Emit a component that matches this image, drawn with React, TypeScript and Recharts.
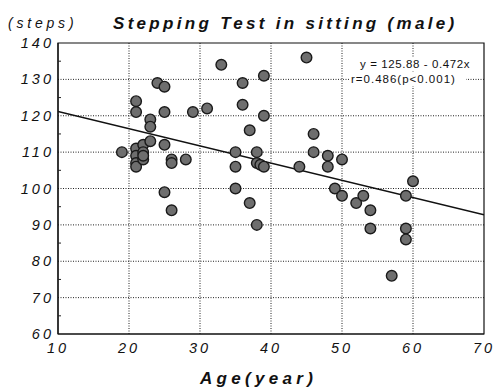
import { ScatterChart, Scatter, XAxis, YAxis, CartesianGrid, ReferenceArea } from 'recharts';

// ages (years) and stepping counts
const ages = [
  19, 21, 21, 21, 21, 21, 21, 22, 22, 22, 22, 23, 23, 23,
  24, 25, 25, 25, 25, 26, 26, 26, 28, 29, 31, 33,
  35, 35, 35, 36, 36, 37, 37, 38, 38, 38.5, 39, 38, 39, 39,
  44, 45, 46, 46, 48, 48, 49, 50, 50, 52, 53, 54, 54, 57, 59, 59, 59, 60,
];
const steps = [
  110, 124, 121, 111, 109, 107, 106, 112, 110, 108, 109, 113, 119, 117,
  129, 128, 121, 112, 99, 108, 107, 94, 108, 121, 122, 134,
  110, 106, 100, 129, 123, 116, 96, 110, 107, 106.5, 106, 90, 131, 120,
  106, 136, 115, 110, 109, 106, 100, 108, 98, 96, 98, 94, 89, 76, 98, 89, 86, 102,
];

// regression line y = 125.88 - 0.472x, end points at the plot edges
const fitAges = [10, 70];
const fitSteps = [121.2, 92.8];

const xTicks = [10, 20, 30, 40, 50, 60, 70];
const yTicks = [60, 65, 70, 75, 80, 85, 90, 95, 100, 105, 110, 115, 120, 125, 130, 135, 140];
const yGrid = [70, 80, 90, 100, 110, 120, 130];
const xGrid = [20, 30, 40, 50, 60];

const points = ages.map((a, i) => ({ x: a, y: steps[i] }));
const fitLine = fitAges.map((a, i) => ({ x: a, y: fitSteps[i] }));

const FONT = '"Liberation Sans", Arial, Helvetica, sans-serif';

const LeftTick = (props: any) => {
  const { x, y, payload } = props;
  const v = payload.value;
  const major = v % 10 === 0;
  return (
    <g>
      {!major && <line x1={x + 6} x2={x + 9} y1={y} y2={y} stroke="#222" strokeWidth={1} />}
      {major && (
        <text x={x + 2} y={y} dy={5} textAnchor="end" fontFamily={FONT} fontStyle="italic"
          fontSize={14.5} letterSpacing={3} fill="#111">
          {v}
        </text>
      )}
    </g>
  );
};

const RightTick = (props: any) => {
  const { x, y, payload } = props;
  if (payload.value % 10 === 0) return <g />;
  return <line x1={x - 3} x2={x} y1={y} y2={y} stroke="#222" strokeWidth={1} />;
};

const Dot = (props: any) => (
  <circle cx={props.cx} cy={props.cy} r={5.3} fill="#6e6e6e" stroke="#1a1a1a" strokeWidth={1.4} />
);

export default function App() {
  return (
    <div style={{ position: 'absolute', left: 0, top: 0, width: 495, height: 388, background: '#fff' }}>
      <ScatterChart width={495} height={388} margin={{ top: 43, right: 11, bottom: 24, left: 8 }}>
        <CartesianGrid
          horizontalValues={yGrid}
          verticalValues={xGrid}
          stroke="#222"
          strokeDasharray="1 1.5"
        />
        <XAxis
          type="number"
          dataKey="x"
          domain={[10, 70]}
          ticks={xTicks}
          height={30}
          tickSize={0}
          tickMargin={9}
          axisLine={{ stroke: '#111', strokeWidth: 1.2 }}
          tick={{ fontFamily: FONT, fontStyle: 'italic', fontSize: 14.5, letterSpacing: 3, fill: '#111' }}
          allowDataOverflow
        />
        <YAxis
          type="number"
          dataKey="y"
          domain={[60, 140]}
          ticks={yTicks}
          width={50}
          tickSize={0}
          tickMargin={6}
          interval={0}
          axisLine={{ stroke: '#111', strokeWidth: 1.2 }}
          tick={<LeftTick />}
          allowDataOverflow
        />
        <YAxis
          yAxisId="r"
          orientation="right"
          type="number"
          domain={[60, 140]}
          ticks={yTicks}
          width={0}
          tickSize={0}
          tickMargin={0}
          interval={0}
          axisLine={false}
          tick={<RightTick />}
        />
        <ReferenceArea x1={10} x2={70} y1={60} y2={140} fill="none" stroke="#111" strokeWidth={1.2} />
        <Scatter
          data={fitLine}
          line={{ stroke: '#111', strokeWidth: 1.5 }}
          shape={() => <g />}
          isAnimationActive={false}
        />
        <Scatter data={points} shape={<Dot />} isAnimationActive={false} />
      </ScatterChart>
      <svg width={495} height={388} style={{ position: 'absolute', left: 0, top: 0, pointerEvents: 'none' }}>
        <text x={8} y={28} fontFamily={FONT} fontStyle="italic" fontSize={14} letterSpacing={3.8} fill="#111">
          (steps)
        </text>
        <text x={113} y={29} fontFamily={FONT} fontStyle="italic" fontWeight="bold" fontSize={17}
          letterSpacing={3.3} fill="#111">
          Stepping Test in sitting (male)
        </text>
        <text x={200} y={384} fontFamily={FONT} fontStyle="italic" fontWeight="bold" fontSize={17}
          letterSpacing={4.3} fill="#111">
          Age(year)
        </text>
        <rect x={357} y={57} width={117} height={14} fill="#fff" />
        <text x={360} y={68} fontFamily={FONT} fontSize={11.5} letterSpacing={0.6} fill="#111">
          y = 125.88 - 0.472x
        </text>
        <rect x={349} y={72} width={117} height={14} fill="#fff" />
        <text x={351} y={83} fontFamily={FONT} fontSize={11.5} letterSpacing={1} fill="#111">
          r=0.486(p&lt;0.001)
        </text>
      </svg>
    </div>
  );
}
